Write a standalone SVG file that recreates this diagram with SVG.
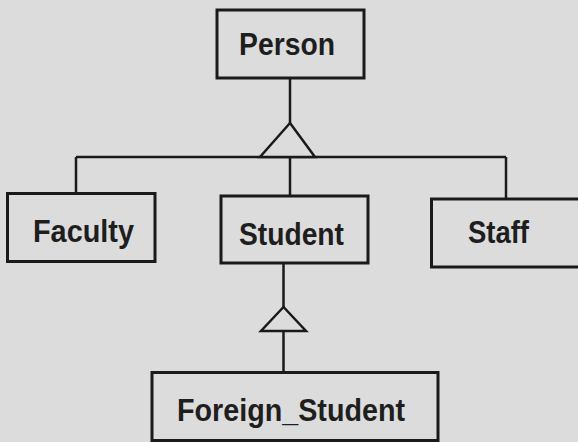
<svg xmlns="http://www.w3.org/2000/svg" width="578" height="442" viewBox="0 0 578 442">
  <style>
    .box { fill: none; stroke: #1a1a1a; stroke-width: 3; }
    .label { font-family: "Liberation Sans", Arial, sans-serif; font-weight: bold; font-size: 31px; fill: #1e1e1e; text-anchor: middle; }
    .wire { fill: none; stroke: #1a1a1a; stroke-width: 2.5; }
    .gen { fill: #dcdcdc; stroke: #1a1a1a; stroke-width: 2.5; stroke-linejoin: miter; }
  </style>

  <!-- paper -->
  <rect x="0" y="0" width="578" height="442" fill="#dcdcdc"/>

  <!-- inheritance connectors -->
  <g id="connectors">
    <!-- Person to its three subclasses -->
    <line class="wire" x1="290" y1="78" x2="290" y2="123"/>
    <line class="wire" x1="76" y1="157" x2="506" y2="157"/>
    <line class="wire" x1="76" y1="157" x2="76" y2="194"/>
    <line class="wire" x1="290" y1="157" x2="290" y2="196"/>
    <line class="wire" x1="506" y1="157" x2="506" y2="199"/>
    <polygon class="gen" points="290,123 260,157 315,157"/>
    <!-- Student to Foreign_Student -->
    <line class="wire" x1="283.5" y1="263" x2="283.5" y2="307"/>
    <line class="wire" x1="283.5" y1="331" x2="283.5" y2="373"/>
    <polygon class="gen" points="283.5,307 261,331 306,331"/>
  </g>

  <g id="person">
    <rect class="box" x="217" y="10" width="147" height="68"/>
    <text class="label" x="287" y="55" textLength="96" lengthAdjust="spacingAndGlyphs">Person</text>
  </g>

  <g id="faculty">
    <rect class="box" x="7.5" y="193.5" width="147.5" height="68"/>
    <text class="label" x="83.5" y="242" textLength="101" lengthAdjust="spacingAndGlyphs">Faculty</text>
  </g>

  <g id="student">
    <rect class="box" x="221" y="196" width="147" height="67"/>
    <text class="label" x="291.5" y="244.5" textLength="105" lengthAdjust="spacingAndGlyphs">Student</text>
  </g>

  <g id="staff">
    <rect class="box" x="431.5" y="199" width="160" height="68"/>
    <text class="label" x="498.5" y="243" textLength="61" lengthAdjust="spacingAndGlyphs">Staff</text>
  </g>

  <g id="foreign_student">
    <rect class="box" x="152" y="372.5" width="286" height="68"/>
    <text class="label" x="291" y="421" textLength="228" lengthAdjust="spacingAndGlyphs">Foreign_Student</text>
  </g>
</svg>
